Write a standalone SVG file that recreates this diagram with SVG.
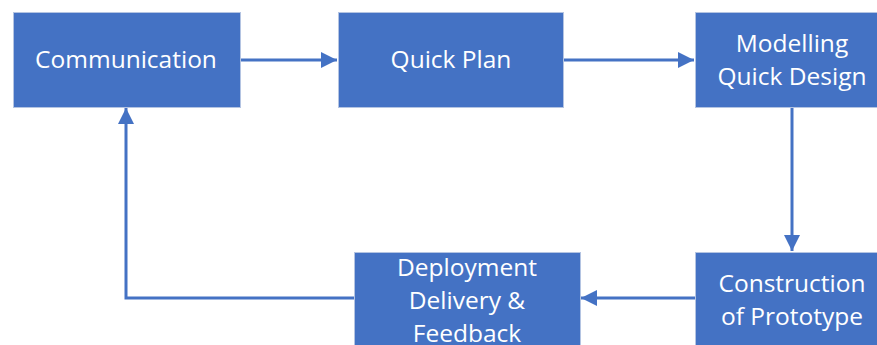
<svg xmlns="http://www.w3.org/2000/svg" width="877" height="345" viewBox="0 0 877 345">
  <style>
    .box { fill: #4472C4; stroke: #B4C4E2; stroke-width: 1; }
    .lbl { fill: #FFFFFF; font-family: "Open Sans", "Noto Sans", sans-serif; font-size: 24.5px; text-anchor: middle; }
    .link { fill: none; stroke: #4472C4; stroke-width: 3; }
  </style>
  <defs>
    <marker id="arrow" markerUnits="userSpaceOnUse" markerWidth="16" markerHeight="16" refX="16" refY="8" orient="auto">
      <path d="M0,0 L16,8 L0,16 Z" fill="#4472C4"/>
    </marker>
  </defs>
  <rect width="877" height="345" fill="#FFFFFF"/>

  <g id="connectors">
    <path class="link" d="M240,60 H337" marker-end="url(#arrow)"/>
    <path class="link" d="M563,60 H694" marker-end="url(#arrow)"/>
    <path class="link" d="M792,107 V251" marker-end="url(#arrow)"/>
    <path class="link" d="M695,298 H581" marker-end="url(#arrow)"/>
    <path class="link" d="M354,298 H126 V108" marker-end="url(#arrow)"/>
  </g>

  <g id="communication">
    <rect class="box" x="13.5" y="12.5" width="227" height="95"/>
    <text class="lbl" x="126" y="68">Communication</text>
  </g>
  <g id="quick-plan">
    <rect class="box" x="338.5" y="12.5" width="225" height="95"/>
    <text class="lbl" x="451" y="68">Quick Plan</text>
  </g>
  <g id="modelling">
    <rect class="box" x="695.5" y="12.5" width="200" height="95"/>
    <text class="lbl" x="792" y="52">Modelling</text>
    <text class="lbl" x="792" y="85">Quick Design</text>
  </g>
  <g id="construction">
    <rect class="box" x="695.5" y="252.5" width="200" height="100"/>
    <text class="lbl" x="792" y="292">Construction</text>
    <text class="lbl" x="792" y="325">of Prototype</text>
  </g>
  <g id="deployment">
    <rect class="box" x="354.5" y="252.5" width="226" height="100"/>
    <text class="lbl" x="467" y="276">Deployment</text>
    <text class="lbl" x="467" y="309">Delivery &amp;</text>
    <text class="lbl" x="467" y="342">Feedback</text>
  </g>
</svg>
